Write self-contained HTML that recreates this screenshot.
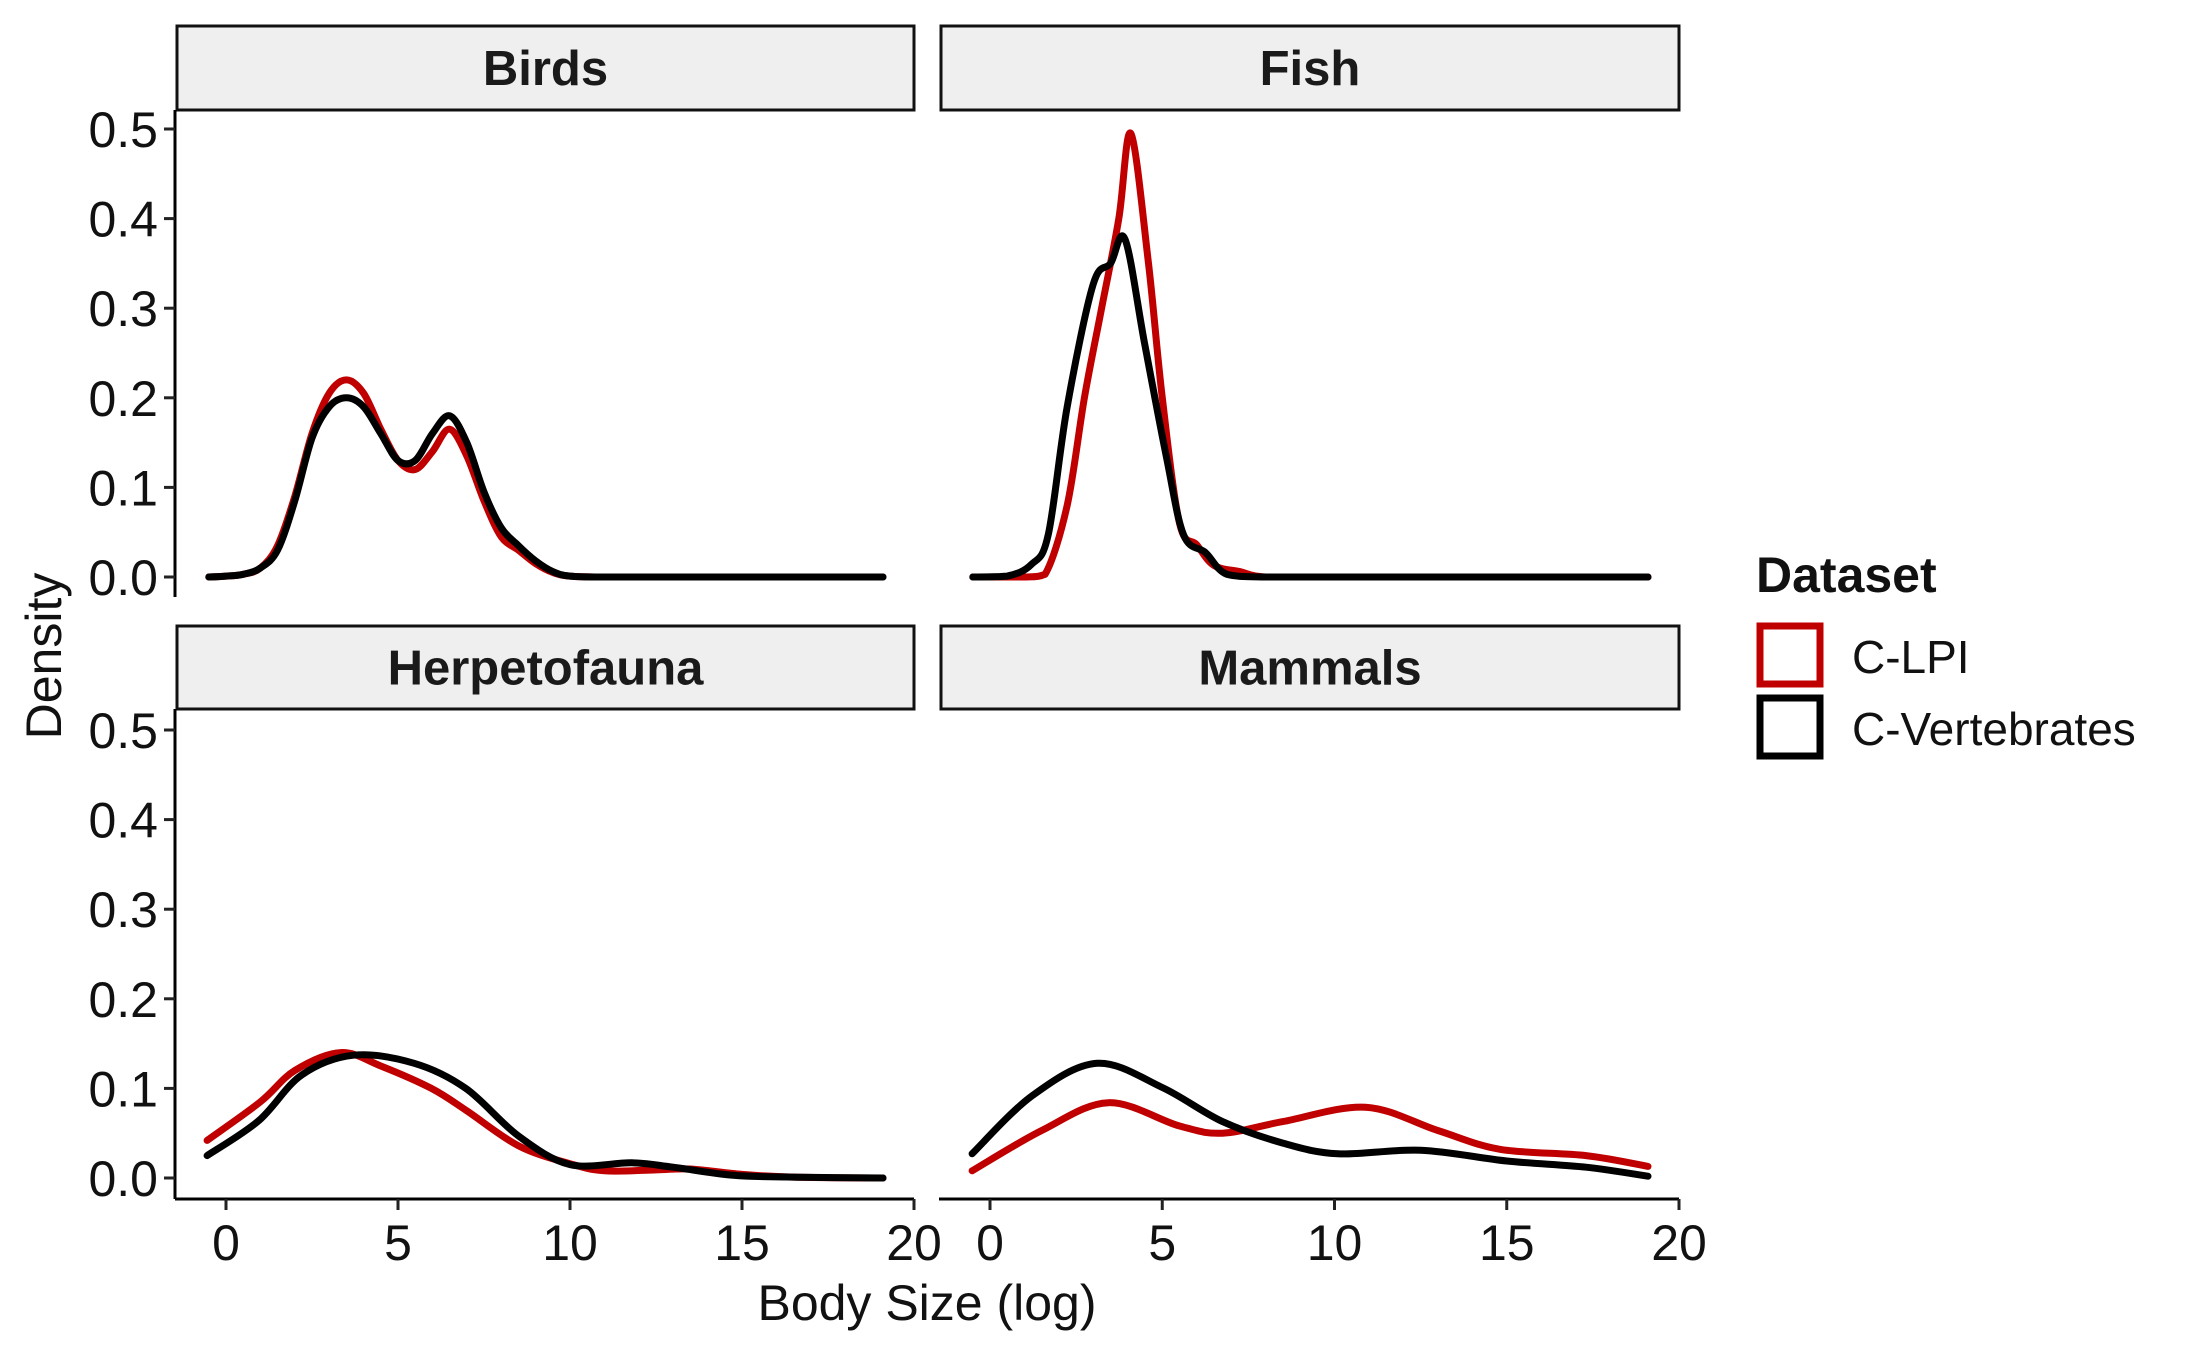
<!DOCTYPE html>
<html><head><meta charset="utf-8">
<style>
html,body{margin:0;padding:0;background:#fff;}
svg{display:block;font-family:"Liberation Sans",Arial,sans-serif;}
</style></head>
<body>
<svg id="chart" width="2187" height="1353" viewBox="0 0 2187 1353" xmlns="http://www.w3.org/2000/svg"></svg>
<script>
const panelNames = ["Birds","Fish","Herpetofauna","Mammals"];
const xTicks = [0,5,10,15,20];
const yTicks = [0,0.1,0.2,0.3,0.4,0.5];
const yTickLabels = ["0.0","0.1","0.2","0.3","0.4","0.5"];
const seriesNames = ["C-LPI","C-Vertebrates"];
const seriesColors = ["#c00000","#000000"];

const birdsX = [-0.5,0,0.5,1,1.5,2,2.5,3,3.5,4,4.5,5,5.5,6,6.5,7,7.5,8,8.5,9,9.5,10,11,13,15,17,19.1];
const birdsLPI = [0,0.001,0.003,0.01,0.035,0.09,0.16,0.205,0.22,0.205,0.165,0.13,0.12,0.14,0.165,0.135,0.085,0.045,0.03,0.015,0.005,0.001,0,0,0,0,0];
const birdsVert = [0,0.001,0.003,0.01,0.03,0.085,0.155,0.19,0.2,0.19,0.16,0.13,0.13,0.16,0.18,0.15,0.095,0.055,0.035,0.018,0.006,0.001,0,0,0,0,0];

const fishLPIx = [-0.5,1,1.6,2.24,2.74,3.24,3.74,4.09,4.6,5.0,5.5,6.0,6.5,7.25,8,10,13,16,19.1];
const fishLPI = [0,0,0.003,0.08,0.2,0.3,0.4,0.495,0.35,0.2,0.06,0.036,0.013,0.006,0,0,0,0,0];
const fishVertx = [-0.5,0.5,1.2,1.69,2.24,2.99,3.5,3.92,4.49,5.12,5.62,6.26,6.87,8,10,13,16,19.1];
const fishVert = [0,0.001,0.014,0.047,0.19,0.326,0.35,0.377,0.26,0.134,0.047,0.027,0.003,0,0,0,0,0];

const herpLPIx = [-0.55,1,2,3.33,4.5,5.97,7,8.5,10,11,12.5,13.5,15,16.5,19.1];
const herpLPI = [0.042,0.085,0.12,0.14,0.125,0.1,0.075,0.036,0.016,0.008,0.009,0.01,0.004,0.001,0];
const herpVertx = [-0.55,0.95,2.2,3.71,5.47,6.97,8.5,10,11.8,13,14.75,16.5,19.1];
const herpVert = [0.025,0.064,0.115,0.137,0.128,0.1,0.047,0.015,0.017,0.012,0.003,0.001,0];

const mamLPIx = [-0.52,1.5,3.44,5.5,6.75,8.5,10.9,13,14.8,17.3,19.1];
const mamLPI = [0.008,0.053,0.084,0.058,0.05,0.063,0.079,0.053,0.032,0.025,0.013];
const mamVertx = [-0.52,1.23,3.11,5.0,6.75,8.5,10.1,12.5,15.0,17.3,19.1];
const mamVert = [0.027,0.092,0.128,0.101,0.063,0.039,0.027,0.031,0.019,0.012,0.002];

const panelData = [
  [[birdsX,birdsLPI],[birdsX,birdsVert]],
  [[fishLPIx,fishLPI],[fishVertx,fishVert]],
  [[herpLPIx,herpLPI],[herpVertx,herpVert]],
  [[mamLPIx,mamLPI],[mamVertx,mamVert]]
];

const NS="http://www.w3.org/2000/svg";
const svg=document.getElementById('chart');
function mk(tag,attrs,parent){const e=document.createElementNS(NS,tag);for(const k in attrs)e.setAttribute(k,attrs[k]);(parent||svg).appendChild(e);return e;}

const cols=[{l:177,r:914,x0:226,unit:34.4},{l:941,r:1679,x0:990,unit:34.45}];
const rows=[{st:26,sb:110,y0:577,ppu:896,axisB:597},{st:626,sb:709,y0:1178,ppu:896,axisB:1199}];

// Catmull-Rom with control points clamped to the baseline (no dip below zero)
function smoothPath(px,py,base){
  const cl=v=>Math.min(v,base);
  let d="M"+px[0].toFixed(1)+","+py[0].toFixed(1);
  for(let i=0;i<px.length-1;i++){
    const x0=px[Math.max(0,i-1)],y0=py[Math.max(0,i-1)];
    const x1=px[i],y1=py[i],x2=px[i+1],y2=py[i+1];
    const x3=px[Math.min(px.length-1,i+2)],y3=py[Math.min(px.length-1,i+2)];
    const c1x=x1+(x2-x0)/6,c1y=cl(y1+(y2-y0)/6),c2x=x2-(x3-x1)/6,c2y=cl(y2-(y3-y1)/6);
    d+=" C"+c1x.toFixed(1)+","+c1y.toFixed(1)+" "+c2x.toFixed(1)+","+c2y.toFixed(1)+" "+x2.toFixed(1)+","+y2.toFixed(1);
  }
  return d;
}

for(let p=0;p<4;p++){
  const c=cols[p%2], r=rows[Math.floor(p/2)];
  const xs=v=>c.x0+v*c.unit, ys=v=>r.y0-v*r.ppu;
  const g=mk('g',{});
  
  
  const strip=mk('rect',{x:c.l,y:r.st,width:c.r-c.l,height:r.sb-r.st,fill:'#efefef',stroke:'#111','stroke-width':3},g);
  
  
  const st=mk('text',{x:(c.l+c.r)/2,y:(r.st+r.sb)/2+17,'text-anchor':'middle','font-size':49,'font-weight':'bold',fill:'#1a1a1a'},g);
  st.textContent=panelNames[p];
  
  
  if(p%2===0){
    const ya=mk('line',{x1:175,x2:175,y1:r.sb,y2:r.axisB,stroke:'#000','stroke-width':3},g);
    
    
    yTicks.forEach((t,i)=>{
      const tk=mk('line',{x1:164,x2:175,y1:ys(t),y2:ys(t),stroke:'#222','stroke-width':3},g);
      
      
      const tl=mk('text',{x:158,y:ys(t)+18,'text-anchor':'end','font-size':50,fill:'#111'},g);
      tl.textContent=yTickLabels[i];
      
      
    });
  }
  if(p>=2){
    const xa=mk('line',{x1:c.l-2,x2:c.r,y1:1199,y2:1199,stroke:'#000','stroke-width':3},g);
    
    
    xTicks.forEach(t=>{
      const tk=mk('line',{x1:xs(t),x2:xs(t),y1:1199,y2:1210,stroke:'#222','stroke-width':3},g);
      
      
      const tl=mk('text',{x:xs(t),y:1260,'text-anchor':'middle','font-size':50,fill:'#111'},g);
      tl.textContent=String(t);
      
      
    });
  }
  for(let s=0;s<2;s++){
    const [dx,dy]=panelData[p][s];
    const path=mk('path',{d:smoothPath(dx.map(xs),dy.map(ys),ys(0)),fill:'none',stroke:seriesColors[s],'stroke-width':7,'stroke-linecap':'round','stroke-linejoin':'round'},g);
    
    
  }
}

const xt=mk('text',{x:927,y:1320,'text-anchor':'middle','font-size':50,fill:'#111'});
xt.textContent='Body Size (log)';


const yt=mk('text',{x:0,y:0,'text-anchor':'middle','font-size':50,fill:'#111',transform:'translate(61,656) rotate(-90)'});
yt.textContent='Density';



const lt=mk('text',{x:1756,y:592,'font-size':50,'font-weight':'bold',fill:'#111'});
lt.textContent='Dataset';


const legY=[623,695];
for(let s=0;s<2;s++){
  const lg=mk('g',{});
  
  
  mk('rect',{x:1760,y:legY[s]+3,width:60,height:58,fill:'none',stroke:seriesColors[s],'stroke-width':7},lg);
  const t=mk('text',{x:1852,y:legY[s]+50,'font-size':46,fill:'#111'},lg);
  t.textContent=seriesNames[s];
}
</script>
</body></html>
